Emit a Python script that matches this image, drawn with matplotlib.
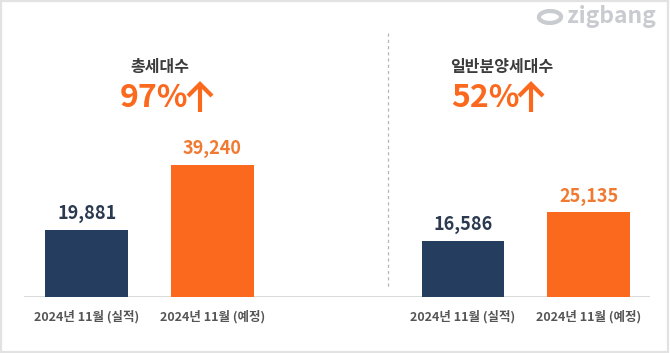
import matplotlib
matplotlib.use("Agg")
import matplotlib.pyplot as plt
from matplotlib.lines import Line2D
from matplotlib.patches import Ellipse, Rectangle

plt.rcParams["font.family"] = ["Noto Sans CJK KR", "DejaVu Sans"]

# data
groups = ["총세대수", "일반분양세대수"]
growth = ["97%", "52%"]
tick_labels = ["2024년 11월 (실적)", "2024년 11월 (예정)",
               "2024년 11월 (실적)", "2024년 11월 (예정)"]
actual = [19881, 16586]
planned = [39240, 25135]

NAVY, ORANGE = "#253d5e", "#fb691e"
NAVY_TXT, ORANGE_TXT = "#2c3a50", "#f07a32"

W, H = 670, 353
fig = plt.figure(figsize=(W / 100, H / 100), dpi=100)


def px(x, y):
    # pixel position (from top-left) -> figure fraction
    return x / W, 1 - y / H


# frame around the whole image
fig.patches.append(Rectangle((0.002, 0.004), 0.995, 0.992, transform=fig.transFigure,
                             fill=False, ec="#e2e2e2", lw=1.6))

# axes spanning x px 24..650, baseline at y px 297
ax = fig.add_axes([24 / W, (H - 297) / H, (650 - 24) / W, 264 / H])
ax.set_xlim(-0.5, 4.49)
ax.set_ylim(0, 78300)
ax.axis("off")

xs_actual = [0, 3]
xs_planned = [1, 4]
ax.bar(xs_actual, actual, width=0.66, color=NAVY, zorder=2)
ax.bar(xs_planned, planned, width=0.66, color=ORANGE, zorder=2)
ax.axhline(0, color="#d3d3d3", lw=1.2, zorder=1)

for x, v in zip(xs_actual, actual):
    ax.annotate(f"{v:,}", (x, v), xytext=(0, 12), textcoords="offset points",
                ha="center", va="center", fontsize=13, fontweight="bold", color=NAVY_TXT)
for x, v in zip(xs_planned, planned):
    ax.annotate(f"{v:,}", (x, v), xytext=(0, 11.5), textcoords="offset points",
                ha="center", va="center", fontsize=13, fontweight="bold", color=ORANGE_TXT)

for x, lab in zip(xs_actual + xs_planned, tick_labels[0::2] + tick_labels[1::2]):
    ax.annotate(lab, (x, 0), xytext=(0, -14.5), textcoords="offset points",
                ha="center", va="center", fontsize=9, fontweight="bold", color="#555555")

# group headers: title, growth figure and a hand-drawn up arrow
for cx, pct_x, arr_x, title, g in zip([160, 502], [154, 485], [200, 531], groups, growth):
    fig.text(*px(cx, 67), title, ha="center", va="center",
             fontsize=11.5, fontweight="bold", color="#3c3c3c")
    fig.text(*px(pct_x, 98), g, ha="center", va="center",
             fontsize=23, fontweight="bold", color=ORANGE)
    sx, sy = zip(px(arr_x, 112), px(arr_x, 85))
    fig.lines.append(Line2D(sx, sy, transform=fig.transFigure, color=ORANGE,
                            lw=3, solid_capstyle="butt"))
    hx, hy = zip(px(arr_x - 12, 96), px(arr_x, 84), px(arr_x + 12, 96))
    fig.lines.append(Line2D(hx, hy, transform=fig.transFigure, color=ORANGE,
                            lw=3, solid_capstyle="butt", solid_joinstyle="miter"))

# dashed separator
sx, sy = zip(px(388, 33), px(388, 287))
fig.lines.append(Line2D(sx, sy, transform=fig.transFigure, color="#b5b5b5",
                        lw=0.9, ls=(0, (2.5, 2.5))))

# zigbang logo
fig.patches.append(Ellipse(px(550, 17), 22 / W, 12 / H, angle=-25,
                           transform=fig.transFigure, fill=False, ec="#c8cbcf", lw=3))
fig.text(*px(567, 16), "zigbang", ha="left", va="center",
         fontsize=16.5, fontweight="bold", color="#c8cbcf")

fig.savefig("out.png", dpi=100)
